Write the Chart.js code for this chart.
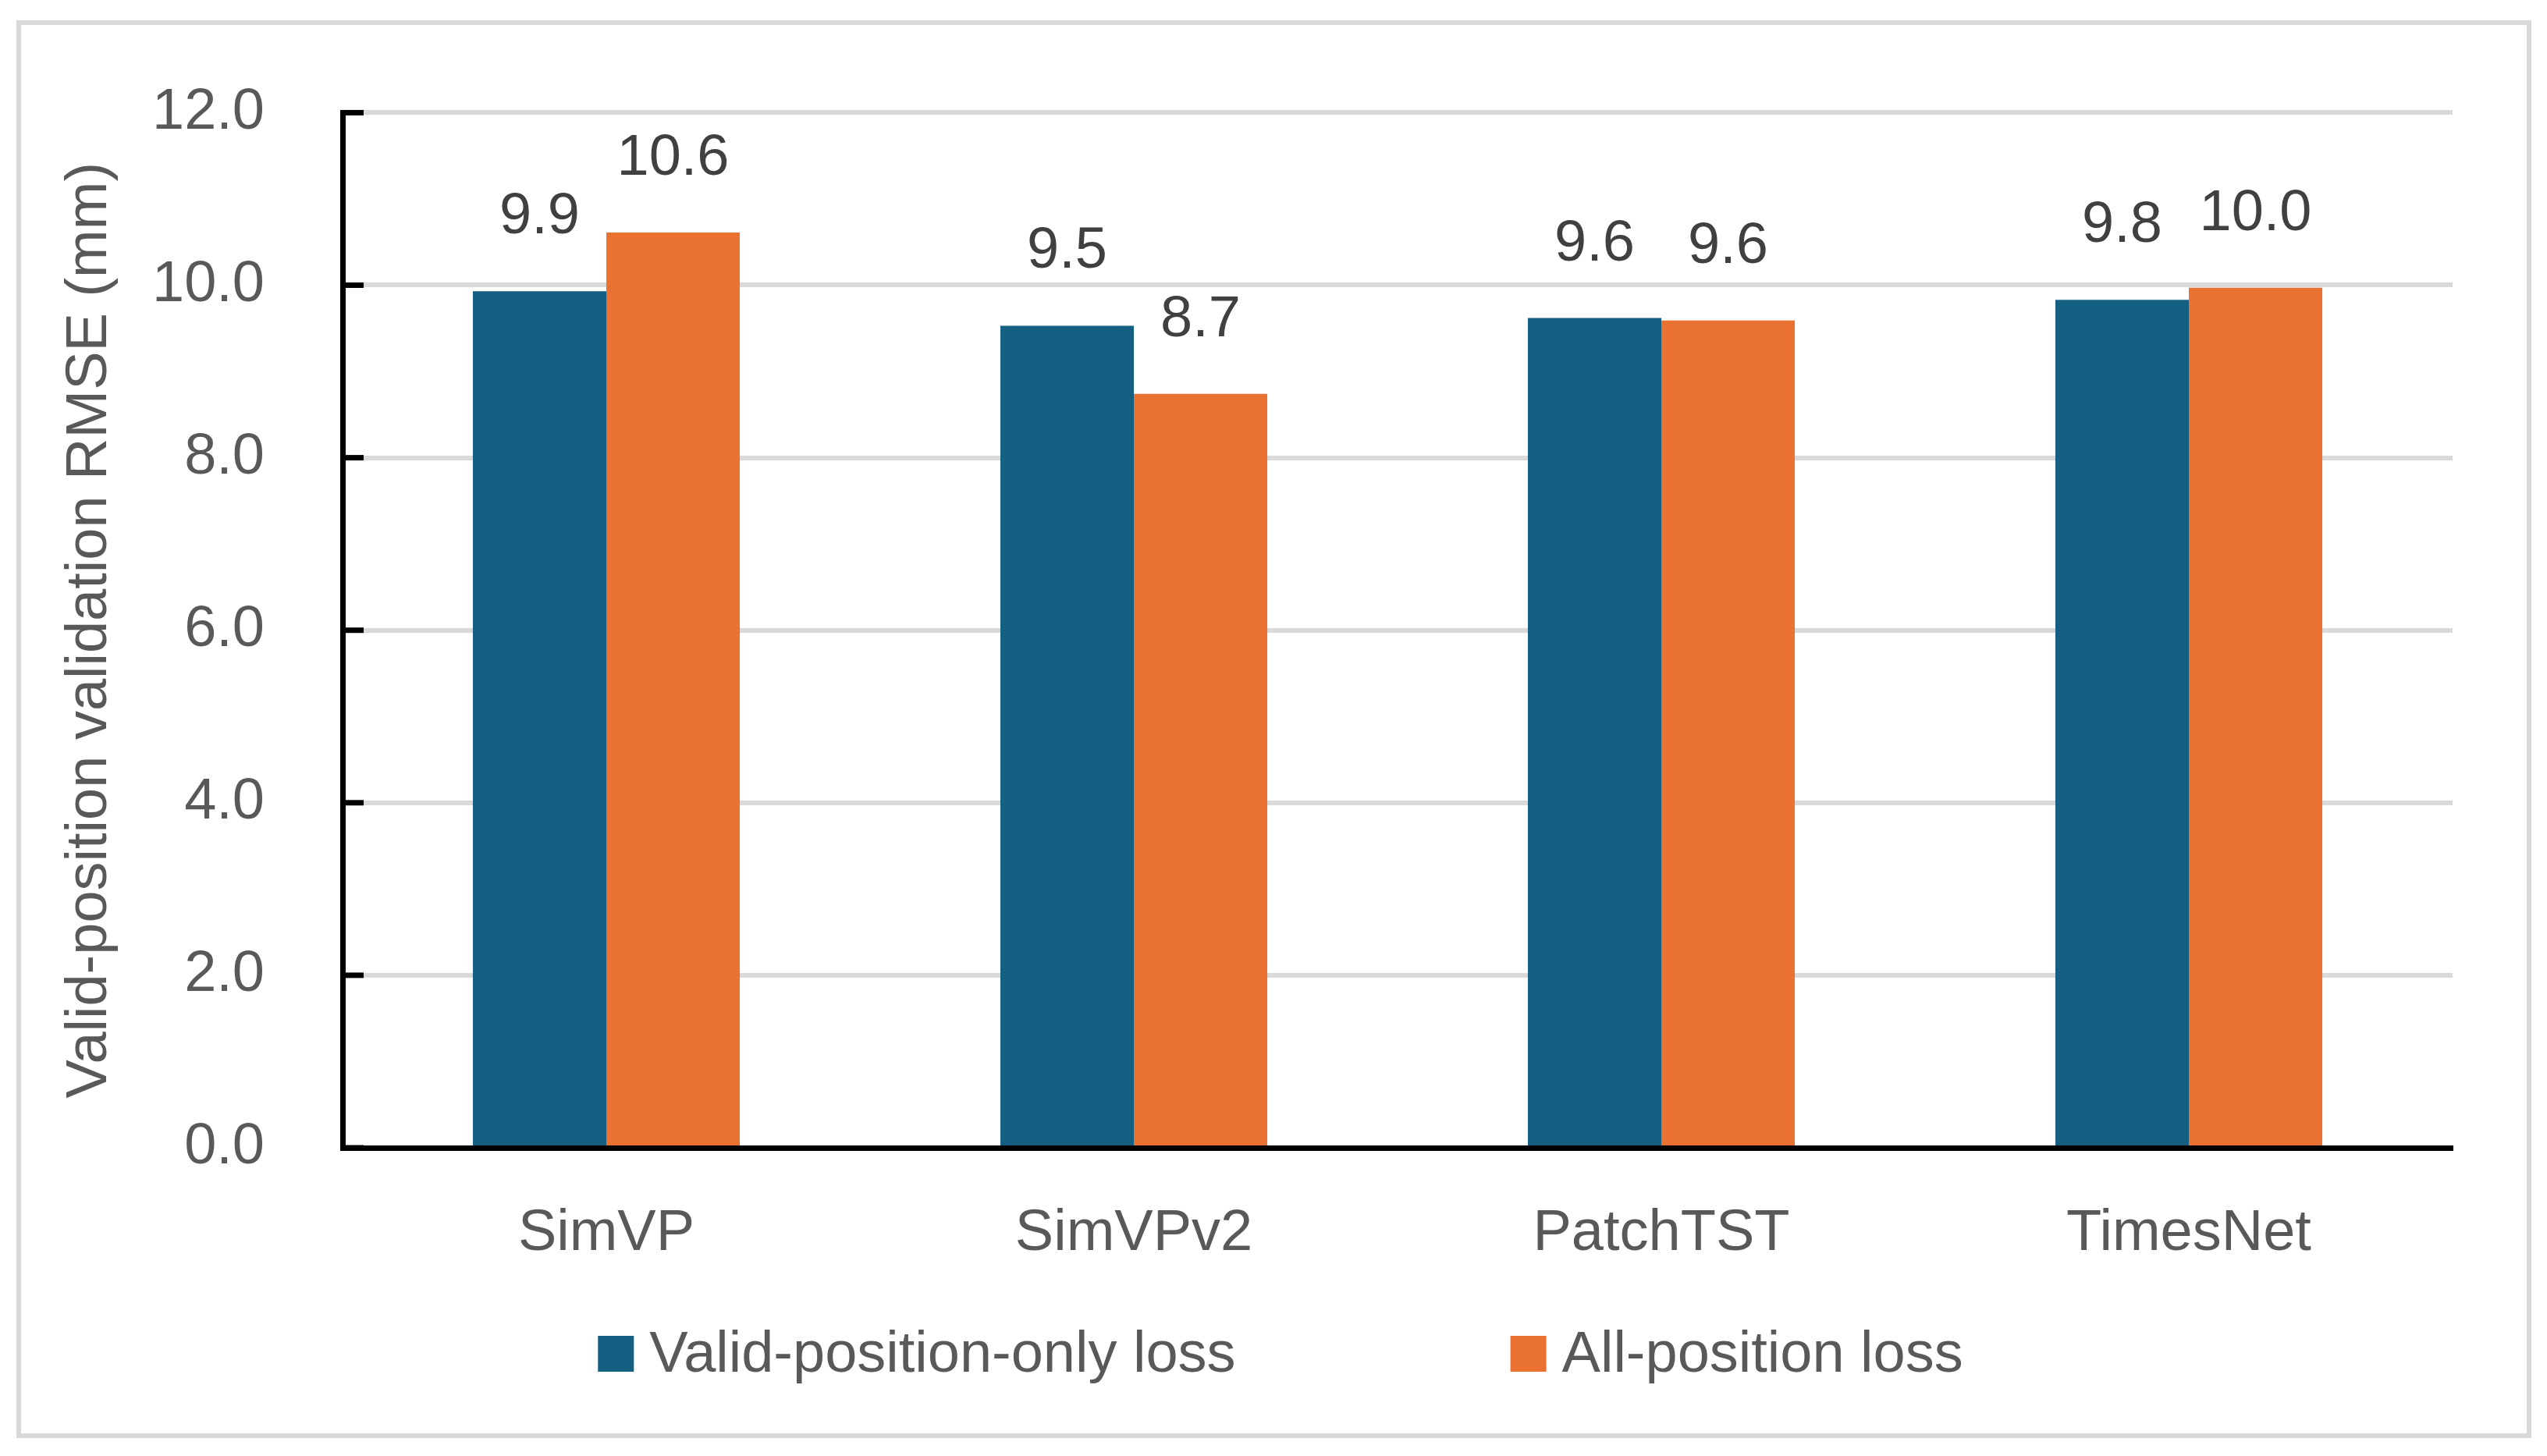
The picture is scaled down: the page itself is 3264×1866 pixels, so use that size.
<!DOCTYPE html>
<html>
<head>
<meta charset="utf-8">
<script src="https://cdn.jsdelivr.net/npm/chart.js@4.4.1/dist/chart.umd.min.js"></script>
<style>
  html, body { margin: 0; padding: 0; background: #fff; }
  #wrap { width: 3264px; height: 1866px; }
</style>
</head>
<body>
<div id="wrap"><canvas id="rmseChart" width="3264" height="1866"></canvas></div>
<script>
const categories = ['SimVP', 'SimVPv2', 'PatchTST', 'TimesNet'];
const validOnlyLoss = [9.93, 9.53, 9.62, 9.83];
const allPositionLoss = [10.61, 8.74, 9.59, 9.97];
const seriesNames = ['Valid-position-only loss', 'All-position loss'];
const seriesColors = ['#156082', '#E97132'];
const yTicks = [0, 2, 4, 6, 8, 10, 12];
const yTitle = 'Valid-position validation RMSE (mm)';

const FONT = '"Liberation Sans", Arial, sans-serif';
const FONT_SIZE = 74;

// white page + light grey frame like the Excel chart area
const framePlugin = {
    id: 'frame',
    beforeDraw(chart) {
        const ctx = chart.ctx;
        ctx.save();
        ctx.fillStyle = '#fff';
        ctx.fillRect(0, 0, chart.width, chart.height);
        ctx.strokeStyle = '#d9d9d9';
        ctx.lineWidth = 6;
        ctx.strokeRect(24, 29, 3217, 1811);
        ctx.restore();
    }
};

// short black tick marks pointing into the plot
const innerTicksPlugin = {
    id: 'innerTicks',
    afterDraw(chart) {
        const ctx = chart.ctx;
        const y = chart.scales.y;
        const left = chart.chartArea.left;
        ctx.save();
        ctx.strokeStyle = '#000';
        ctx.lineWidth = 7;
        y.ticks.forEach(t => {
            const py = y.getPixelForValue(t.value);
            ctx.beginPath();
            ctx.moveTo(left - 3, py);
            ctx.lineTo(left + 27, py);
            ctx.stroke();
        });
        ctx.restore();
    }
};

// value labels above each bar
const valueLabelsPlugin = {
    id: 'valueLabels',
    afterDatasetsDraw(chart) {
        const ctx = chart.ctx;
        ctx.save();
        ctx.font = FONT_SIZE + 'px ' + FONT;
        ctx.fillStyle = '#404040';
        ctx.textAlign = 'center';
        ctx.textBaseline = 'alphabetic';
        chart.data.datasets.forEach((ds, i) => {
            chart.getDatasetMeta(i).data.forEach((bar, j) => {
                ctx.fillText(ds.data[j].toFixed(1), bar.x, bar.y - 74);
            });
        });
        ctx.restore();
    }
};

// legend row at the bottom, Excel style spacing
const legendPlugin = {
    id: 'bottomLegend',
    afterDraw(chart) {
        const ctx = chart.ctx;
        const box = 46, gap = 20, between = 352, cy = 1735;
        ctx.save();
        ctx.font = FONT_SIZE + 'px ' + FONT;
        const widths = chart.data.datasets.map(ds => ctx.measureText(ds.label).width);
        const total = widths.reduce((a, w) => a + box + gap + w, 0) + between * (widths.length - 1);
        let x = (chart.width - total) / 2 + 9;
        ctx.textBaseline = 'middle';
        ctx.textAlign = 'left';
        chart.data.datasets.forEach((ds, i) => {
            ctx.fillStyle = ds.backgroundColor;
            ctx.fillRect(x, cy - box / 2, box, box);
            x += box + gap;
            ctx.fillStyle = '#595959';
            ctx.fillText(ds.label, x, cy + 3);
            x += widths[i] + between;
        });
        ctx.restore();
    }
};

new Chart(document.getElementById('rmseChart'), {
    type: 'bar',
    data: {
        labels: categories,
        datasets: [
            {
                label: seriesNames[0],
                data: validOnlyLoss,
                backgroundColor: seriesColors[0],
                categoryPercentage: 0.506,
                barPercentage: 1.0
            },
            {
                label: seriesNames[1],
                data: allPositionLoss,
                backgroundColor: seriesColors[1],
                categoryPercentage: 0.506,
                barPercentage: 1.0
            }
        ]
    },
    options: {
        responsive: false,
        devicePixelRatio: 1,
        animation: false,
        layout: { padding: { left: 0, top: 133, right: 121, bottom: 0 } },
        plugins: {
            legend: { display: false },
            tooltip: { enabled: false }
        },
        scales: {
            x: {
                grid: { display: false, drawTicks: false },
                border: { display: true, color: '#000', width: 7 },
                ticks: {
                    padding: 66,
                    color: '#595959',
                    font: { family: FONT, size: FONT_SIZE }
                },
                afterFit: s => { s.height = 395; }
            },
            y: {
                min: 0,
                max: 12,
                afterBuildTicks: s => { s.ticks = yTicks.map(v => ({ value: v })); },
                grid: { color: '#d9d9d9', lineWidth: 6, drawTicks: false },
                border: { display: true, color: '#000', width: 7 },
                ticks: {
                    padding: 100,
                    color: '#595959',
                    font: { family: FONT, size: FONT_SIZE },
                    callback: v => v.toFixed(1)
                },
                title: {
                    display: true,
                    text: yTitle,
                    color: '#595959',
                    font: { family: FONT, size: FONT_SIZE },
                    padding: { top: 71, bottom: 0 }
                },
                afterFit: s => { s.width = 439; }
            }
        }
    },
    plugins: [framePlugin, innerTicksPlugin, valueLabelsPlugin, legendPlugin]
});
</script>
</body>
</html>
